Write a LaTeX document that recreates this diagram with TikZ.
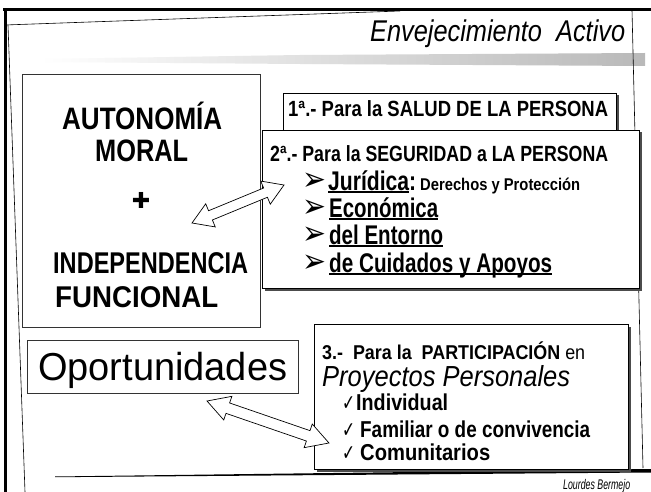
\documentclass[tikz,border=0pt]{standalone}
\usepackage{fontspec}
\usepackage{graphicx}
\setmainfont{Liberation Sans}
\newfontfamily\nar{Liberation Sans}[FakeStretch=0.85]
\newfontfamily\dv{DejaVu Sans}
\usetikzlibrary{calc,shadows}
\newcommand\fw[2]{\resizebox{#1pt}{\height}{#2}}
\newcommand\fs[1]{\fontsize{#1pt}{#1pt}\selectfont}
\newcommand\ulx[1]{\setbox0\hbox{#1}\rlap{\rule[-3pt]{\wd0}{1.6pt}}\box0}
\newcommand\dbl[5]{%
 \coordinate (#1h) at ($(#1)!#3!(#2)$);
 \coordinate (#2h) at ($(#2)!#3!(#1)$);
 \draw[arr] (#1) -- ($(#1h)!#4!90:(#2)$) -- ($(#1h)!#5!90:(#2)$) -- ($(#2h)!#5!-90:(#1)$) -- ($(#2h)!#4!-90:(#1)$) -- (#2) -- ($(#2h)!#4!90:(#1)$) -- ($(#2h)!#5!90:(#1)$) -- ($(#1h)!#5!-90:(#2)$) -- ($(#1h)!#4!-90:(#2)$) -- cycle;
}
\begin{document}
\begin{tikzpicture}[x=1pt,y=-1pt,
  frame/.style={draw=black!80, line width=0.8pt, inner sep=0pt},
  sbox/.style={draw=black, line width=1.4pt, fill=white, inner sep=0pt,
    drop shadow={shadow xshift=1.8pt, shadow yshift=-1.8pt, opacity=1, fill=black!70}},
  lbl/.style={anchor=base west, inner sep=0pt},
  arr/.style={draw=black, line width=0.7pt, fill=white, line join=miter},
]
\useasboundingbox (0,0) rectangle (651,492);
\fill[white] (0,0) rectangle (651,492);

% outer frame
\shade[left color=white, middle color=gray!40, right color=gray!55]
  (40,59) -- (300,55) -- (645,53) -- (645,66) -- (300,64) -- (40,62) -- cycle;
\draw[line width=3pt] (3,10) -- (651,10);
\draw[line width=3pt] (5,8.5) -- (5,492);
\draw[line width=0.6pt] (5,25) -- (400,11);
\draw[line width=0.6pt] (8,25) -- (25,492);
\draw[line width=0.6pt] (632,10) -- (643,468);
\fill (55,476.5) -- (651,469) -- (651,472.5) -- (55,477.2) -- cycle;

% title
\node[lbl] (title) at (370,42) {\nar\itshape\fs{30}\fw{255}{Envejecimiento\ \ Activo}};
\node[lbl] (author) at (563,489) {\nar\itshape\fs{14}\fw{67}{Lourdes Bermejo}};

% boxes
\node[frame, anchor=north west, minimum width=238pt, minimum height=253pt] (b1) at (22,74) {};
\node[sbox, anchor=north west, minimum width=333pt, minimum height=60pt] (b2) at (283,93) {};
\node[sbox, anchor=north west, minimum width=377pt, minimum height=158pt] (b3) at (262,130) {};
\node[frame, anchor=north west, minimum width=271pt, minimum height=53pt] (b4) at (27,340) {};
\node[sbox, anchor=north west, minimum width=314pt, minimum height=145pt] (b5) at (314,324) {};

% box 1 text
\node[lbl] (t1) at (62,130) {\nar\bfseries\fs{31}\fw{160}{AUTONOMÍA}};
\node[lbl] (t2) at (95,162) {\nar\bfseries\fs{31}\fw{93}{MORAL}};
\node[inner sep=0pt] (plus) at (141,200) {\dv\fs{22}✚};
\node[lbl] (t3) at (53,273) {\nar\bfseries\fs{30}\fw{195}{INDEPENDENCIA}};
\node[lbl] (t4) at (55,307) {\nar\bfseries\fs{30}\fw{163}{FUNCIONAL}};

% box 2 text
\node[lbl] (s1) at (288,117) {\nar\bfseries\fs{22}\fw{320}{1ª.- Para la SALUD DE LA PERSONA}};

% box 3 text
\node[lbl] (s2) at (270,162) {\nar\bfseries\fs{22}\fw{338}{2ª.- Para la SEGURIDAD a LA PERSONA}};
\foreach \yy/\nm in {190/k1,217/k2,244/k3,272/k4}
  \node[lbl] (\nm) at (302,\yy) {\dv\fs{33}\fw{24}{➢}};
\node[lbl] (j1) at (328,190) {\nar\bfseries\fs{27}\fw{88}{\ulx{Jurídica}:}};
\node[lbl] (j2) at (420,190) {\nar\bfseries\fs{17}\fw{160}{Derechos y Protección}};
\node[lbl] (e1) at (329,217) {\nar\bfseries\fs{27}\fw{109}{\ulx{Económica}}};
\node[lbl] (e2) at (329,244) {\nar\bfseries\fs{27}\fw{114}{\ulx{del Entorno}}};
\node[lbl] (e3) at (329,272) {\nar\bfseries\fs{27}\fw{223}{\ulx{de Cuidados y Apoyos}}};

% box 4 text
\node[lbl] (op) at (38,380) {\fs{39}\fw{249}{Oportunidades}};

% box 5 text
\node[lbl] (p1) at (322,359) {\nar\fs{20}\fw{263}{\bfseries 3.-\ \ Para la\ \ PARTICIPACIÓN \mdseries en}};
\node[lbl] (p2) at (322,386) {\itshape\fs{29}\fw{248}{Proyectos Personales}};
\foreach \yy/\nm in {410/c1,437/c2,460/c3}
  \node[lbl] (\nm) at (342,\yy) {\dv\fs{22}\fw{13}{✓}};
\node[lbl] (q1) at (356,410) {\nar\bfseries\fs{23}\fw{92}{Individual}};
\node[lbl] (q2) at (360,437) {\nar\bfseries\fs{23}\fw{230}{Familiar o de convivencia}};
\node[lbl] (q3) at (360,460) {\nar\bfseries\fs{23}\fw{130}{Comunitarios}};

% double arrows
\coordinate (a1s) at (192,223);
\coordinate (a1e) at (284,185);
\coordinate (a2s) at (207,401);
\coordinate (a2e) at (329,443);
\dbl{a1s}{a1e}{20pt}{12.5pt}{5pt}
\dbl{a2s}{a2e}{22pt}{12.5pt}{5.5pt}
\end{tikzpicture}
\end{document}
